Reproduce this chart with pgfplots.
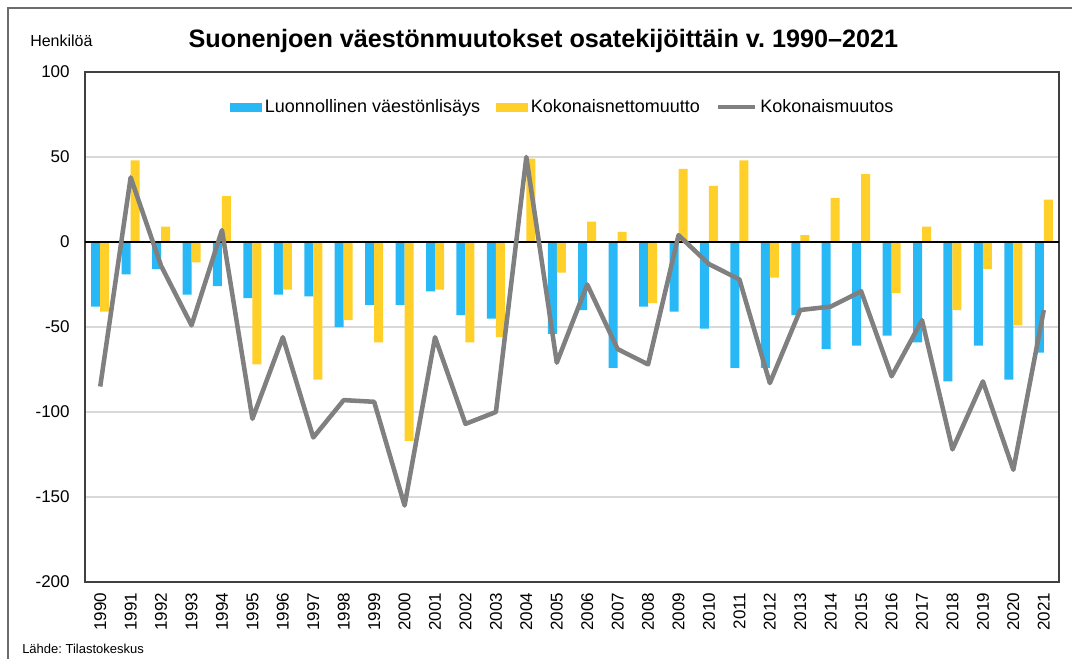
\documentclass[border=0pt]{standalone}
\usepackage{fontspec}
\setmainfont{Liberation Sans}
\usepackage{pgfplots}
\usepackage{pgfplotstable}
\pgfplotsset{compat=1.18}
\frenchspacing

\definecolor{cblue}{RGB}{41,184,246}
\definecolor{cyel}{RGB}{255,208,41}
\definecolor{cgray}{RGB}{128,128,128}
\definecolor{cframe}{RGB}{64,64,64}
\definecolor{cgrid}{RGB}{217,217,217}

\pgfplotstableread{
idx nat net tot
0 -38 -41 -85
1 -19 48 38
2 -16 9 -14
3 -31 -12 -49
4 -26 27 7
5 -33 -72 -104
6 -31 -28 -56
7 -32 -81 -115
8 -50 -46 -93
9 -37 -59 -94
10 -37 -117 -155
11 -29 -28 -56
12 -43 -59 -107
13 -45 -56 -100
14 0 49 50
15 -54 -18 -71
16 -40 12 -25
17 -74 6 -63
18 -38 -36 -72
19 -41 43 4
20 -51 33 -13
21 -74 48 -22
22 -74 -21 -83
23 -43 4 -40
24 -63 26 -38
25 -61 40 -29
26 -55 -30 -79
27 -59 9 -46
28 -82 -40 -122
29 -61 -16 -82
30 -81 -49 -134
31 -65 25 -40
}\datatable

\begin{document}
\begin{tikzpicture}
\path[use as bounding box] (0pt,0pt) rectangle (804pt,-494.25pt);
\draw[line width=1.5pt, color=gray!85!black] (6pt,-494.25pt) -- (6pt,-6pt) -- (804pt,-6pt);
\node[anchor=center, font=\fontsize{18.9pt}{21pt}\selectfont\bfseries] at (407.6pt,-30.5pt) {Suonenjoen väestönmuutokset osatekijöittäin v. 1990–2021};
\node[anchor=west, inner sep=0pt, font=\fontsize{12pt}{14pt}\selectfont] at (22.5pt,-30.5pt) {Henkilöä};
\node[anchor=west, inner sep=0pt, font=\fontsize{9.75pt}{12pt}\selectfont] at (16.5pt,-486.75pt) {Lähde: Tilastokeskus};
\begin{axis}[
  at={(63.75pt,-436.5pt)}, anchor=south west,
  width=730.5pt, height=382.5pt, scale only axis,
  xmin=-0.5, xmax=31.5, ymin=-200, ymax=100,
  axis line style={cframe, line width=1.5pt},
  ytick={-200,-150,-100,-50,0,50,100},
  yticklabels={-200,-150,-100,-50,0,50,100},
  ymajorgrids, grid style={cgrid, line width=1.1pt},
  xtick={0,...,31},
  xticklabels={1990,1991,1992,1993,1994,1995,1996,1997,1998,1999,2000,2001,2002,2003,2004,2005,2006,2007,2008,2009,2010,2011,2012,2013,2014,2015,2016,2017,2018,2019,2020,2021},
  major tick length=0pt,
  tick label style={font=\fontsize{12.75pt}{14pt}\selectfont},
  yticklabel style={xshift=-8pt},
  xticklabel style={rotate=90, anchor=east, xshift=-4.5pt},
  legend columns=3,
  legend style={at={(0.491,0.931)}, anchor=center, draw=none, fill=none,
    font=\fontsize{13.5pt}{15pt}\selectfont,
    /tikz/every even column/.append style={column sep=10pt}},
  clip=false,
]
\addplot[ybar, bar width=6.75pt, bar shift=-3.375pt, fill=cblue, draw=none,
  legend image code/.code={\fill[cblue] (0pt,-3.375pt) rectangle (24pt,3.375pt);}]
  table[x=idx, y=nat] {\datatable};
\addlegendentry{Luonnollinen väestönlisäys}
\addplot[ybar, bar width=6.75pt, bar shift=3.375pt, fill=cyel, draw=none,
  legend image code/.code={\fill[cyel] (0pt,-3.375pt) rectangle (24pt,3.375pt);}]
  table[x=idx, y=net] {\datatable};
\addlegendentry{Kokonaisnettomuutto}
\draw[black, line width=1.3pt] (axis cs:-0.5,0) -- (axis cs:31.5,0);
\addplot[sharp plot, cgray, line width=3.4pt, line join=round, mark=none,
  legend image code/.code={\draw[cgray, line width=3.4pt] (0pt,0pt) -- (28pt,0pt);}]
  table[x=idx, y=tot] {\datatable};
\addlegendentry{Kokonaismuutos}
\end{axis}
\end{tikzpicture}
\end{document}
